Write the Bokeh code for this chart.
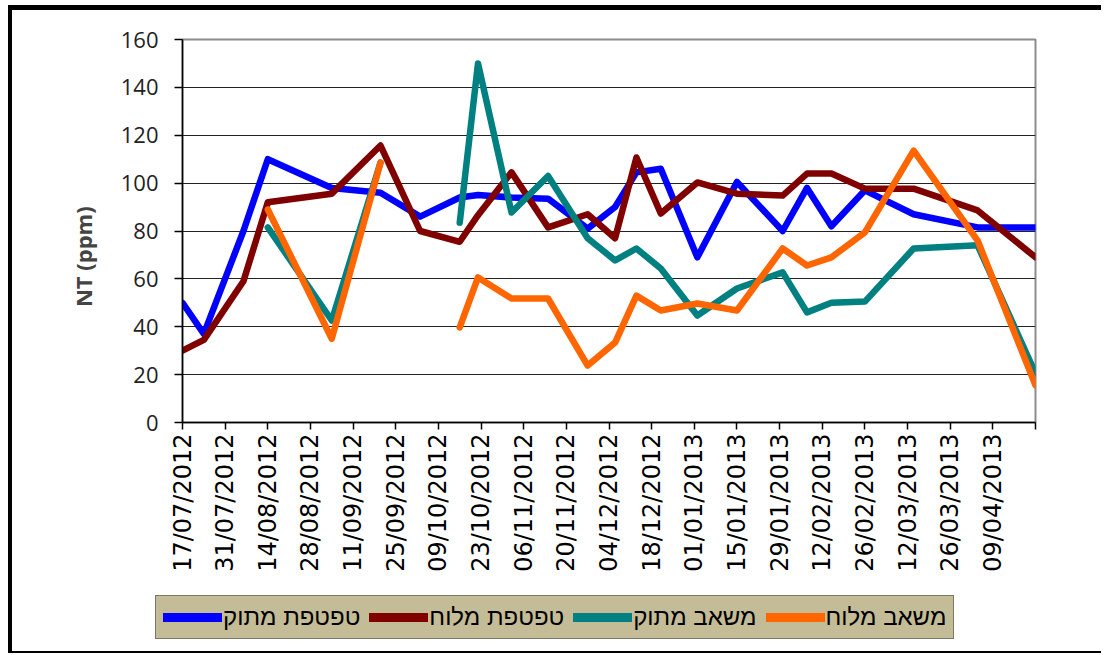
import math
import pandas as pd
from bokeh.plotting import figure
from bokeh.models import Range1d, FixedTicker, Legend, LegendItem
from bokeh.embed import file_html
from bokeh.resources import INLINE

# ---------------- data ----------------
start_date = "2012-07-17"
dates = ["2012-07-17", "2012-07-24", "2012-08-06", "2012-08-14", "2012-09-04",
         "2012-09-20", "2012-10-03", "2012-10-16", "2012-10-22", "2012-11-02",
         "2012-11-14", "2012-11-27", "2012-12-06", "2012-12-13", "2012-12-21",
         "2013-01-02", "2013-01-15", "2013-01-30", "2013-02-07", "2013-02-15",
         "2013-02-26", "2013-03-14", "2013-04-04", "2013-04-23"]
nan = float("nan")
drip_sweet = [50, 37, 80, 110, 98, 96, 86, 94, 95, 94, 93.5, 81, 90, 104.5, 106,
              69, 100.5, 80, 98, 82, 97, 87, 81.5, 81.5]
drip_salty = [30, 34.5, 59, 92, 95.6, 115.7, 80, 75.5, 86.6, 104.5, 81.5, 87, 77,
              110.7, 87.3, 100.3, 95.6, 94.8, 104, 104, 97.7, 97.7, 88.6, 69]
pump_sweet = [nan, nan, nan, 81.5, 42.6, 108.6, nan, 83.5, 150, 87.7, 103, 77, 67.7,
              72.7, 64.3, 44.7, 56, 62.7, 46, 50, 50.5, 72.7, 74, 20.5]
pump_salty = [nan, nan, nan, 89, 35, 108.6, nan, 39.7, 60.6, 51.8, 51.8, 23.8, 33.4,
              53, 46.8, 49.7, 46.8, 72.7, 65.6, 69, 79.4, 113.6, 76, 15.5]
series_names = ["טפטפת מתוק", "טפטפת מלוח", "משאב מתוק", "משאב מלוח"]
series_colors = ["#0000FF", "#800000", "#008080", "#FF6600"]
tick_labels = ["17/07/2012", "31/07/2012", "14/08/2012", "28/08/2012", "11/09/2012",
               "25/09/2012", "09/10/2012", "23/10/2012", "06/11/2012", "20/11/2012",
               "04/12/2012", "18/12/2012", "01/01/2013", "15/01/2013", "29/01/2013",
               "12/02/2013", "26/02/2013", "12/03/2013", "26/03/2013", "09/04/2013", ""]
y_ticks = [0, 20, 40, 60, 80, 100, 120, 140, 160]

t0 = pd.Timestamp(start_date)
xdays = [(pd.Timestamp(d) - t0).days for d in dates]
tick_days = [(pd.to_datetime(t, format="%d/%m/%Y") - t0).days if t else None
             for t in tick_labels]
# last (unlabelled) tick: 14 days after the previous
tick_days[-1] = tick_days[-2] + 14

W = 1093
p = figure(width=W, height=573, output_backend="svg", toolbar_location=None,
           x_range=Range1d(0, tick_days[-1]), y_range=Range1d(0, 160),
           min_border_left=170, min_border_right=70, min_border_top=29,
           min_border_bottom=161)
p.styles = {"border-top": "5px solid black", "border-left": "4px solid black",
            "margin-left": "8px", "margin-top": "5px"}

for vals, col in zip([drip_sweet, drip_salty, pump_sweet, pump_salty], series_colors):
    p.line(xdays, vals, line_color=col, line_width=6.5, line_join="round",
           line_cap="round")

# frame
p.outline_line_color = "#8c8c8c"
p.outline_line_width = 2

# grids
p.xgrid.visible = False
p.ygrid.ticker = FixedTicker(ticks=y_ticks)
p.ygrid.grid_line_color = "#222222"
p.ygrid.grid_line_width = 1.2

# y axis
p.yaxis.ticker = FixedTicker(ticks=y_ticks)
p.yaxis.axis_line_color = "black"
p.yaxis.axis_line_width = 1.5
p.yaxis.major_tick_out = 8
p.yaxis.major_tick_in = 0
p.yaxis.major_tick_line_width = 1.5
p.yaxis.minor_tick_line_color = None
p.yaxis.major_label_text_font = "Open Sans"
p.yaxis.major_label_text_font_size = "22px"
p.yaxis.major_label_text_color = "#222222"
p.yaxis.major_label_standoff = 16
p.yaxis.axis_label = "NT (ppm)" + "\u00a0" * 9
p.yaxis.axis_label_text_font = "Open Sans"
p.yaxis.axis_label_text_font_style = "bold"
p.yaxis.axis_label_text_font_size = "22px"
p.yaxis.axis_label_standoff = 20

# x axis
p.xaxis.ticker = FixedTicker(ticks=tick_days)
p.xaxis.major_label_overrides = {d: lab for d, lab in zip(tick_days, tick_labels)}
p.xaxis.major_label_orientation = math.pi / 2
p.xaxis.axis_line_color = "black"
p.xaxis.axis_line_width = 1.5
p.xaxis.major_tick_out = 7
p.xaxis.major_tick_in = 0
p.xaxis.major_tick_line_width = 1.5
p.xaxis.minor_tick_line_color = None
p.xaxis.major_label_text_font = "DejaVu Sans"
p.xaxis.major_label_text_font_size = "24px"
p.xaxis.major_label_text_color = "black"
p.xaxis.major_label_standoff = 4

# ---- legend strip (separate small figure below, its own root) ----
p2 = figure(width=W, height=75, output_backend="svg", toolbar_location=None,
            x_axis_type=None, y_axis_type=None,
            x_range=Range1d(0, 1), y_range=Range1d(0, 1),
            min_border_left=0, min_border_right=0, min_border_top=0,
            min_border_bottom=0)
p2.styles = {"border-left": "4px solid black", "border-bottom": "2px solid black",
             "margin-left": "8px"}
p2.outline_line_color = None
p2.xgrid.visible = False
p2.ygrid.visible = False
leg_renderers = [p2.line(x=[nan], y=[nan], line_color=c, line_width=9,
                         line_cap="round")
                 for c in series_colors]
items = [LegendItem(label=n, renderers=[r]) for n, r in zip(series_names, leg_renderers)]
legend = Legend(items=items, orientation="horizontal", location=(143, 14),
                glyph_width=59, glyph_height=20, label_standoff=1, spacing=9,
                padding=7, margin=0,
                label_text_font="Liberation Sans", label_text_font_size="24px",
                label_text_color="black",
                background_fill_color="#C4BC96", background_fill_alpha=1.0,
                border_line_color="#333333", border_line_width=1.5)
p2.add_layout(legend, "center")

open("out.html", "w").write(file_html([p, p2], INLINE))
